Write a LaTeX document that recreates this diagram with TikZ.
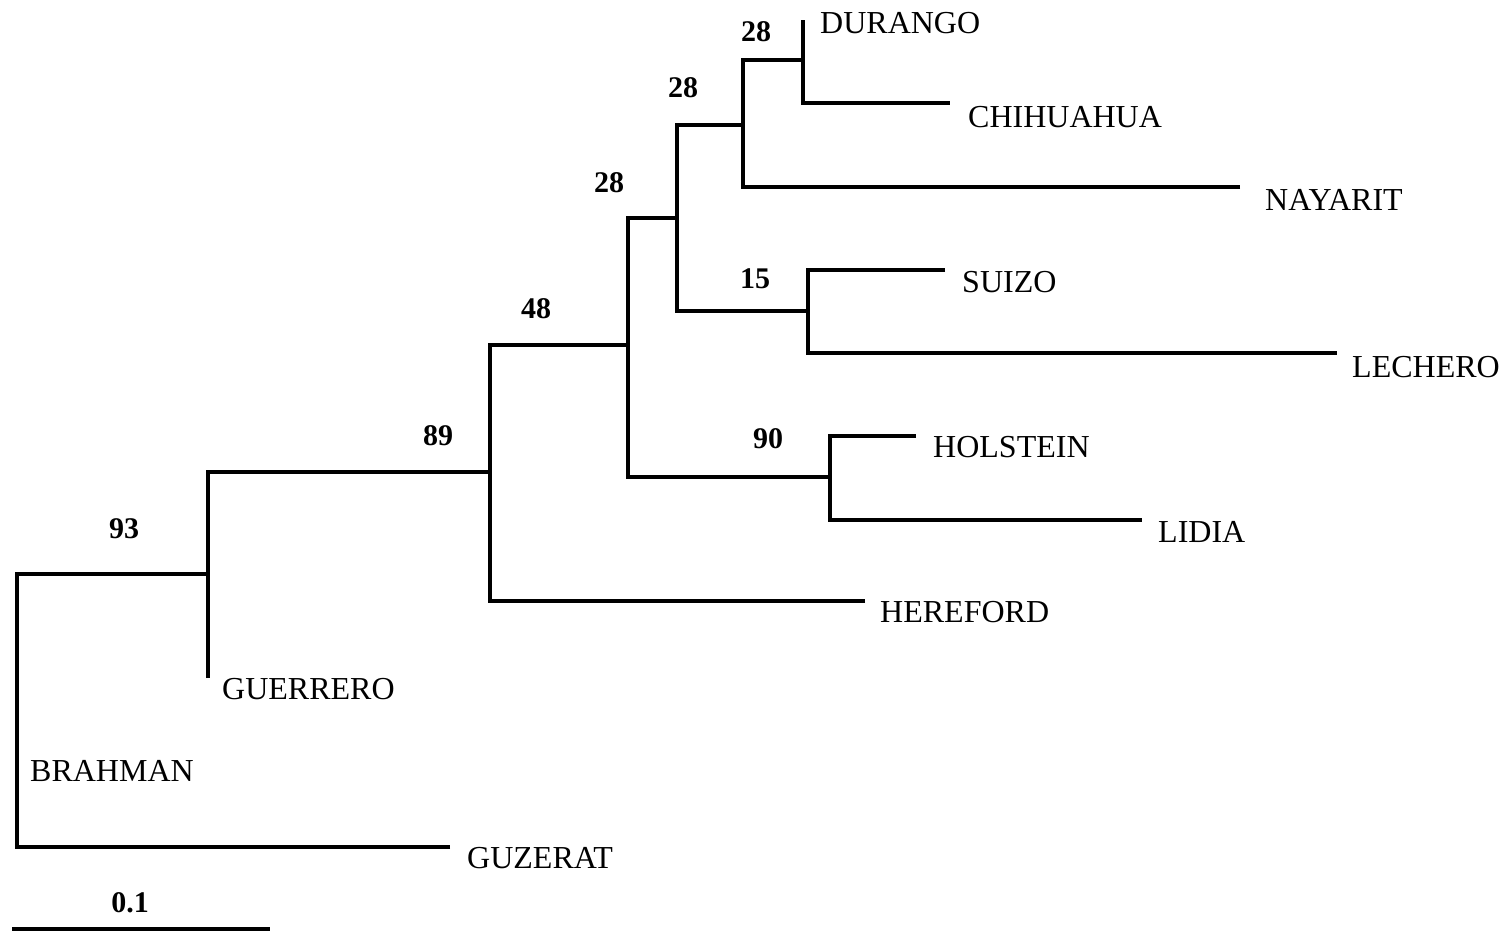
\documentclass[tikz,border=0pt]{standalone}
\usepackage{fontspec}
\setmainfont{Liberation Serif}
\begin{document}
\begin{tikzpicture}[x=1pt,y=-1pt,
  br/.style={line width=3.6pt,line join=miter,line cap=butt},
  taxon/.style={anchor=base west,inner sep=0pt,font=\fontsize{32}{36}\selectfont},
  boot/.style={anchor=base,inner sep=0pt,font=\fontsize{30}{34}\selectfont\bfseries}]
\useasboundingbox (0,0) rectangle (1504,932);
% coordinates
\coordinate (rT) at (17,574);
\coordinate (rB) at (17,847);
\coordinate (guz) at (450,847);
\coordinate (n93) at (208,574);
\coordinate (gue) at (208,678);
\coordinate (n93T) at (208,472);
\coordinate (n89T) at (490,472);
\coordinate (n89B) at (490,601);
\coordinate (her) at (865,601);
\coordinate (n48T) at (490,345);
\coordinate (n48a) at (628,345);
\coordinate (n48B) at (628,477);
\coordinate (n48C) at (628,218);
\coordinate (n90) at (830,477);
\coordinate (n90T) at (830,436);
\coordinate (n90B) at (830,520);
\coordinate (hol) at (916,436);
\coordinate (lid) at (1142,520);
\coordinate (n28a) at (677,218);
\coordinate (n28aT) at (677,125);
\coordinate (n28aB) at (677,311);
\coordinate (n15) at (808,311);
\coordinate (n15T) at (808,270);
\coordinate (n15B) at (808,353);
\coordinate (sui) at (945,270);
\coordinate (lec) at (1337,353);
\coordinate (n28b) at (743,125);
\coordinate (n28bT) at (743,60);
\coordinate (n28bB) at (743,187);
\coordinate (nay) at (1240,187);
\coordinate (n28c) at (803,60);
\coordinate (dur) at (803,20);
\coordinate (n28cB) at (803,103);
\coordinate (chi) at (950,103);
% branches
\draw[br] (guz) -- (rB) -- (rT) -- (n93);
\draw[br] (gue) -- (n93T) -- (n89T);
\draw[br] (her) -- (n89B) -- (n48T) -- (n48a);
\draw[br] (n90) -- (n48B) -- (n48C) -- (n28a);
\draw[br] (n15) -- (n28aB) -- (n28aT) -- (n28b);
\draw[br] (nay) -- (n28bB) -- (n28bT) -- (n28c);
\draw[br] (dur) -- (n28cB) -- (chi);
\draw[br] (sui) -- (n15T) -- (n15B) -- (lec);
\draw[br] (hol) -- (n90T) -- (n90B) -- (lid);
% taxa
\node[taxon] (tdur) at (820,33) {DURANGO};
\node[taxon] (tchi) at (968,127) {CHIHUAHUA};
\node[taxon] (tnay) at (1265,210) {NAYARIT};
\node[taxon] (tsui) at (962,292) {SUIZO};
\node[taxon] (tlec) at (1352,377) {LECHERO};
\node[taxon] (thol) at (933,457) {HOLSTEIN};
\node[taxon] (tlid) at (1158,542) {LIDIA};
\node[taxon] (ther) at (880,622) {HEREFORD};
\node[taxon] (tgue) at (222,699) {GUERRERO};
\node[taxon] (tbra) at (30,781) {BRAHMAN};
\node[taxon] (tguz) at (467,868) {GUZERAT};
% bootstrap values
\node[boot] (b1) at (756,41) {28};
\node[boot] (b2) at (683,97) {28};
\node[boot] (b3) at (609,192) {28};
\node[boot] (b4) at (755,288) {15};
\node[boot] (b5) at (536,318) {48};
\node[boot] (b6) at (438,445) {89};
\node[boot] (b7) at (768,448) {90};
\node[boot] (b8) at (124,538) {93};
% scale bar
\coordinate (sL) at (12,929);
\coordinate (sR) at (270,929);
\draw[br] (sL) -- (sR);
\node[boot] (scl) at (130,912) {0.1};
\end{tikzpicture}
\end{document}
